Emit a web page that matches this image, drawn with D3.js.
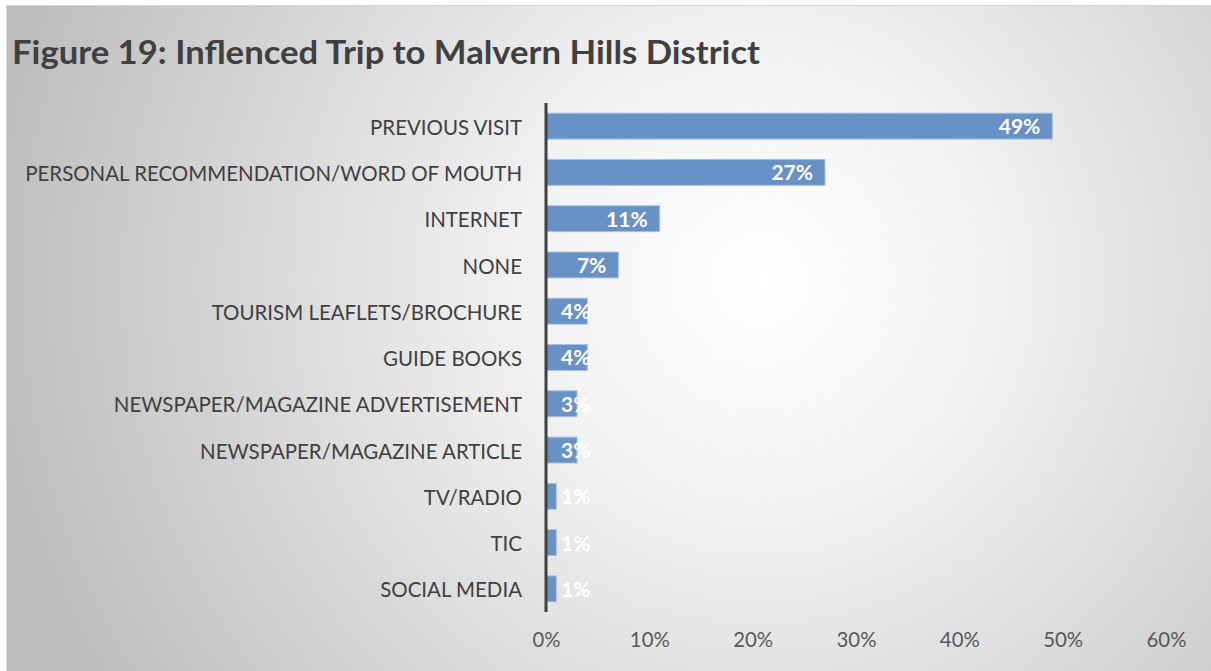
<!DOCTYPE html>
<html>
<head>
<meta charset="utf-8">
<script src="https://cdn.jsdelivr.net/npm/d3@7"></script>
<style>
  html, body { margin: 0; padding: 0; background: #ffffff; }
  svg { display: block; }
</style>
</head>
<body>
<script>
// Share of visitors whose trip was influenced by each source
const categories = [
  "PREVIOUS VISIT",
  "PERSONAL RECOMMENDATION/WORD OF MOUTH",
  "INTERNET",
  "NONE",
  "TOURISM LEAFLETS/BROCHURE",
  "GUIDE BOOKS",
  "NEWSPAPER/MAGAZINE ADVERTISEMENT",
  "NEWSPAPER/MAGAZINE ARTICLE",
  "TV/RADIO",
  "TIC",
  "SOCIAL MEDIA"
];
const values = [0.49, 0.27, 0.11, 0.07, 0.04, 0.04, 0.03, 0.03, 0.01, 0.01, 0.01];
const tickValues = [0, 0.1, 0.2, 0.3, 0.4, 0.5, 0.6];
const title = "Figure 19: Inflenced Trip to Malvern Hills District";

const W = 1211, H = 671;
const svg = d3.select("body").append("svg").attr("width", W).attr("height", H);

// Panel background: soft radial grey gradient
const defs = svg.append("defs");
const grad = defs.append("radialGradient")
  .attr("id", "bg").attr("gradientUnits", "userSpaceOnUse")
  .attr("cx", 760).attr("cy", 280).attr("r", 780);
grad.append("stop").attr("offset", "0").attr("stop-color", "#ffffff");
grad.append("stop").attr("offset", "0.3").attr("stop-color", "#f2f2f2");
grad.append("stop").attr("offset", "1").attr("stop-color", "#bdbdbd");

svg.append("rect")
  .attr("x", 6.5).attr("y", 5.5).attr("width", W - 6).attr("height", H - 5)
  .attr("fill", "url(#bg)").attr("stroke", "#d4d4d4").attr("stroke-width", 1);

const font = "Lato, 'Open Sans', sans-serif";

// Title
svg.append("text")
  .attr("x", 12).attr("y", 64)
  .attr("font-family", font).attr("font-weight", 700)
  .attr("font-size", 32).attr("fill", "#404040")
  .attr("textLength", 748).attr("lengthAdjust", "spacingAndGlyphs")
  .text(title);

// Scales
const x = d3.scaleLinear().domain([0, 0.6]).range([546, 1166]);
const y = d3.scaleBand().domain(categories).range([103, 612])
  .paddingInner(0.44).paddingOuter(0.22);

// Bars
const data = categories.map((c, i) => ({ c, v: values[i] }));
svg.append("g").selectAll("rect").data(data).join("rect")
  .attr("x", x(0))
  .attr("y", d => y(d.c))
  .attr("width", d => x(d.v) - x(0))
  .attr("height", y.bandwidth())
  .attr("fill", "#6891c5")
  .attr("stroke", "#a9c0e0").attr("stroke-width", 1);

// Value axis (tick labels only)
const xAxis = svg.append("g")
  .attr("transform", "translate(0,612)")
  .call(d3.axisBottom(x).tickValues(tickValues).tickFormat(d3.format(".0%")).tickSize(0).tickPadding(20));
xAxis.select(".domain").remove();
xAxis.selectAll("text")
  .attr("font-family", font).attr("font-size", 21).attr("fill", "#595959")
  .attr("textLength", 40).attr("lengthAdjust", "spacingAndGlyphs");
xAxis.selectAll(".tick").filter(d => d === 0).select("text")
  .attr("textLength", 28);

// Category axis
const yAxis = svg.append("g")
  .attr("transform", `translate(${x(0)},0)`)
  .call(d3.axisLeft(y).tickSize(0).tickPadding(24));
yAxis.select(".domain").remove();
const catText = yAxis.selectAll("text")
  .attr("font-family", font).attr("font-size", 20).attr("fill", "#404040")
  .attr("dy", "0.42em");

// Fit the category labels to the available width on the left
let maxW = 0;
catText.each(function () { maxW = Math.max(maxW, this.getComputedTextLength()); });
const target = 497;
catText.attr("font-size", 20 * target / maxW);

svg.append("line")
  .attr("x1", x(0)).attr("x2", x(0)).attr("y1", 103).attr("y2", 612)
  .attr("stroke", "#404040").attr("stroke-width", 3);

// Value labels, placed inside the end of each bar
const fmt = d3.format(".0%");
svg.append("g").selectAll("text").data(data).join("text")
  .attr("font-family", font).attr("font-weight", 700)
  .attr("font-size", 21).attr("fill", "#ffffff")
  .attr("y", d => y(d.c) + y.bandwidth() / 2)
  .attr("dy", "0.38em")
  .attr("text-anchor", "end")
  .text(d => fmt(d.v))
  .each(function (d) {
    const w = this.getComputedTextLength();
    const endX = Math.max(x(d.v) - 12, x(0) + 15 + w);
    d3.select(this).attr("x", endX);
  });
</script>
</body>
</html>
